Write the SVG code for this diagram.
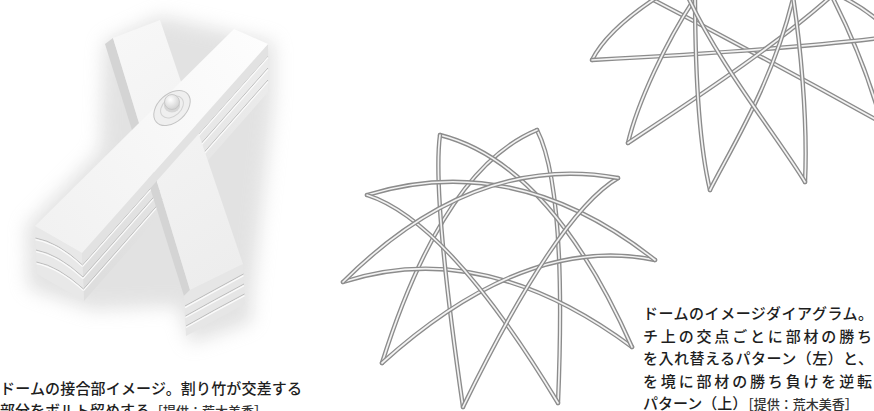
<svg xmlns="http://www.w3.org/2000/svg" width="874" height="411" viewBox="0 0 874 411">
  <defs>
    <style>
      .cap{font-family:"Noto Sans CJK JP","Noto Sans",sans-serif;font-size:15px;fill:#1e1e1e;font-weight:500}
      .credit{font-size:13px;fill:#333333}
      .tube-o{fill:none;stroke:#8c8c8c;stroke-width:4.4;stroke-linecap:round;stroke-linejoin:round}
      .tube-i{fill:none;stroke:#f3f3f3;stroke-width:1.7;stroke-linecap:round}
      .seam{fill:none;stroke:#bdbdbd;stroke-width:1}
      .shine{fill:none;stroke:#fbfbfb;stroke-width:1.2}
    </style>
    <filter id="soft" x="-30%" y="-30%" width="160%" height="160%">
      <feGaussianBlur stdDeviation="9"/>
    </filter>
    <linearGradient id="topF" x1="35" y1="226" x2="268" y2="44" gradientUnits="userSpaceOnUse">
      <stop offset="0" stop-color="#f1f1f1"/>
      <stop offset="1" stop-color="#fdfdfd"/>
    </linearGradient>
    <linearGradient id="topB" x1="113" y1="38" x2="243" y2="264" gradientUnits="userSpaceOnUse">
      <stop offset="0" stop-color="#f7f7f7"/>
      <stop offset="1" stop-color="#ededed"/>
    </linearGradient>
    <linearGradient id="sideG" x1="82" y1="253" x2="268" y2="92" gradientUnits="userSpaceOnUse">
      <stop offset="0" stop-color="#dedede"/>
      <stop offset="1" stop-color="#ebebeb"/>
    </linearGradient>
    <radialGradient id="boltG" cx="0.4" cy="0.35" r="0.7">
      <stop offset="0" stop-color="#ffffff"/>
      <stop offset="1" stop-color="#cfcfcf"/>
    </radialGradient>

    <!-- dome ribs, first pattern (each rib joins a base point to the fourth one along) -->
    <path id="m0" d="M537,130 C557,169 564,260 558,403"/>
    <path id="m1" d="M618,178 C577,202 525.5,279 463,407"/>
    <path id="m2" d="M655,260 C568.6,242.3 477.6,276.7 382,363"/>
    <path id="m3" d="M632,347 C532.8,273.3 436.4,251.7 343,282"/>
    <path id="m4" d="M558,403 C484.7,281.7 421.1,212.3 367,195"/>
    <path id="m5" d="M463,407 C442.3,264.3 434.7,173.7 440,135"/>
    <path id="m6" d="M382,363 C422.9,233.3 474.5,155.7 537,130"/>
    <path id="m7" d="M343,282 C430.1,195.3 521.7,160.7 618,178"/>
    <path id="m8" d="M367,195 C465.9,164.7 561.9,186.3 655,260"/>
    <path id="m9" d="M440,135 C513.6,153.7 577.6,224.3 632,347"/>

    <!-- dome ribs, second pattern (upper right) -->
    <path id="r0" d="M592,60 Q608,28 665,-8"/>
    <path id="r1" d="M592,60 C650,57 780,50 880,38"/>
    <path id="r2" d="M628,143 C636,108 665,40 702,-12"/>
    <path id="r3" d="M628,143 C665,118 780,45 840,-12"/>
    <path id="r4" d="M710,190 C698,140 695,60 695,-10"/>
    <path id="r5" d="M710,190 C730,150 775,80 795,-10"/>
    <path id="r6" d="M805,182 C808,120 800,40 792,-10"/>
    <path id="r7" d="M805,182 C780,140 715,60 684,-12"/>
    <path id="r8" d="M640,-7 Q760,55 882,123"/>
    <path id="r9" d="M826,-15 C850,30 870,80 882,125"/>
    <path id="r10" d="M838,-5 Q860,5 880,22"/>
  </defs>

  <rect width="874" height="411" fill="#ffffff"/>

  <!-- bolted joint of two split-bamboo bundles -->
  <g id="joint">
    <path d="M104,42 L160,16 L274,42 L274,98 L252,300 L252,322 L190,344 L178,306 L92,310 L28,288 L26,226 L100,150 Z" fill="#c6c6c6" opacity="0.5" filter="url(#soft)"/>

    <!-- front bundle: long side and end showing the stacked strips -->
    <polygon points="82,253 268,44 268,92 84,301" fill="url(#sideG)"/>
    <path class="seam" d="M82.5,265 L268,56 M83,277 L268,68 M83.5,289 L268,80"/>
    <path class="shine" d="M82.5,266.6 L268,57.6 M83,278.6 L268,69.6 M83.5,290.6 L268,81.6"/>
    <polygon points="35,226 82,253 84,301 37,274" fill="#e8e8e8"/>
    <path class="seam" d="M35.5,238 Q58,242 82.5,265 M36,250 Q58,254 83,277 M36.5,262 Q58,266 83.5,289"/>
    <path class="shine" d="M35.5,239.6 Q58,243.6 82.5,266.6 M36,251.6 Q58,255.6 83,278.6 M36.5,263.6 Q58,267.6 83.5,290.6"/>

    <!-- back bundle -->
    <polygon points="105,44 113,38 190,290 184,296" fill="#d4d4d4"/>
    <polygon points="184,296 190,290 243,264 245,304 186,336" fill="#e6e6e6"/>
    <path class="seam" d="M185,306 Q214,290 243.5,274 M185.5,316 Q214,300 244,284 M186,326 Q214,310 244.5,294"/>
    <path class="shine" d="M185,307.6 Q214,291.6 243.5,275.6 M185.5,317.6 Q214,301.6 244,285.6 M186,327.6 Q214,311.6 244.5,295.6"/>
    <polygon points="113,38 160,20 243,264 190,290" fill="url(#topB)"/>

    <!-- top strip of the front bundle -->
    <polygon points="82,253 268,44 268,56 82,265" fill="#e2e2e2"/>
    <polygon points="35,226 234,29 268,44 82,253" fill="url(#topF)"/>

    <!-- bolt and washer -->
    <ellipse cx="172" cy="108" rx="21" ry="14" transform="rotate(-42 172 108)" fill="#efefef" stroke="#c4c4c4" stroke-width="1"/>
    <ellipse cx="172" cy="107" rx="13" ry="9" transform="rotate(-42 172 107)" fill="none" stroke="#d2d2d2" stroke-width="1"/>
    <ellipse cx="172" cy="106" rx="8" ry="6.5" fill="#d6d6d6"/>
    <circle cx="172" cy="102" r="7.5" fill="url(#boltG)" stroke="#c2c2c2" stroke-width="0.8"/>
  </g>

  <!-- dome diagram: ribs swap over/under at every crossing -->
  <g id="dome-crossing">
    <use href="#m0" class="tube-o"/><use href="#m0" class="tube-i"/>
    <use href="#m6" class="tube-o"/><use href="#m6" class="tube-i"/>
    <use href="#m3" class="tube-o"/><use href="#m3" class="tube-i"/>
    <use href="#m9" class="tube-o"/><use href="#m9" class="tube-i"/>
    <use href="#m5" class="tube-o"/><use href="#m5" class="tube-i"/>
    <use href="#m2" class="tube-o"/><use href="#m2" class="tube-i"/>
    <use href="#m8" class="tube-o"/><use href="#m8" class="tube-i"/>
    <use href="#m4" class="tube-o"/><use href="#m4" class="tube-i"/>
    <use href="#m1" class="tube-o"/><use href="#m1" class="tube-i"/>
    <use href="#m7" class="tube-o"/><use href="#m7" class="tube-i"/>
  </g>

  <!-- dome diagram: ribs swap over/under at the crown ring -->
  <g id="dome-ring">
    <use href="#r8" class="tube-o"/><use href="#r8" class="tube-i"/>
    <use href="#r9" class="tube-o"/><use href="#r9" class="tube-i"/>
    <use href="#r10" class="tube-o"/><use href="#r10" class="tube-i"/>
    <use href="#r0" class="tube-o"/><use href="#r0" class="tube-i"/>
    <use href="#r1" class="tube-o"/><use href="#r1" class="tube-i"/>
    <use href="#r2" class="tube-o"/><use href="#r2" class="tube-i"/>
    <use href="#r3" class="tube-o"/><use href="#r3" class="tube-i"/>
    <use href="#r4" class="tube-o"/><use href="#r4" class="tube-i"/>
    <use href="#r5" class="tube-o"/><use href="#r5" class="tube-i"/>
    <use href="#r6" class="tube-o"/><use href="#r6" class="tube-i"/>
    <use href="#r7" class="tube-o"/><use href="#r7" class="tube-i"/>
  </g>

  <!-- captions -->
  <g id="caption-joint" class="cap">
    <text x="0" y="393.5" textLength="302" lengthAdjust="spacing">ドームの接合部イメージ。割り竹が交差する</text>
    <text x="0" y="416">部分をボルト留めする<tspan class="credit">［提供：荒木美香］</tspan></text>
  </g>
  <g id="caption-dome" class="cap">
    <text x="643" y="319" textLength="230" lengthAdjust="spacing">ドームのイメージダイアグラム。</text>
    <text x="643" y="341.5" textLength="229" lengthAdjust="spacing">チ上の交点ごとに部材の勝ち</text>
    <text x="643" y="364" textLength="230" lengthAdjust="spacing">を入れ替えるパターン（左）と、</text>
    <text x="643" y="386.5" textLength="229" lengthAdjust="spacing">を境に部材の勝ち負けを逆転</text>
    <text x="643" y="409">パターン（上）<tspan class="credit">［提供：荒木美香］</tspan></text>
  </g>
</svg>
